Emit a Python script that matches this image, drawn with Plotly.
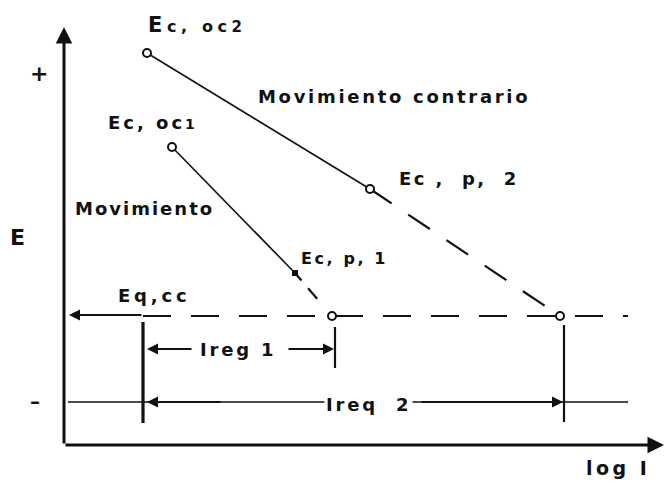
import plotly.graph_objects as go

# Schematic E vs log I diagram (arbitrary units: x = log I, y = E)
# Polarisation lines: open-circuit potential -> potential at the end of the solid segment
line1_logi = [172, 295]
line1_e = [337, 211]
line2_logi = [147, 370]
line2_e = [431, 295]

# Corrosion (equilibrium) potential and the two intersection currents
e_eq = 168
logi_reg1 = 332
logi_reg2 = 560
logi_eq_start = 143
e_low = 82          # level of the "-" mark

BLACK = "#111111"
FONT = "DejaVu Sans"

fig = go.Figure()

# Solid polarisation segments
fig.add_trace(go.Scatter(x=line2_logi, y=line2_e, mode="lines",
                         line=dict(color=BLACK, width=1.6)))
fig.add_trace(go.Scatter(x=line1_logi, y=line1_e, mode="lines",
                         line=dict(color=BLACK, width=1.6)))

# Dashed extrapolations down to the equilibrium level
fig.add_trace(go.Scatter(x=[line2_logi[1], logi_reg2], y=[line2_e[1], e_eq], mode="lines",
                         line=dict(color=BLACK, width=2.2, dash="26px,20px")))
fig.add_trace(go.Scatter(x=[line1_logi[1], logi_reg1], y=[line1_e[1], e_eq], mode="lines",
                         line=dict(color=BLACK, width=2.2, dash="10px,10px,14px,40px")))

# Horizontal dashed equilibrium line
fig.add_trace(go.Scatter(x=[logi_eq_start, 628], y=[e_eq, e_eq], mode="lines",
                         line=dict(color=BLACK, width=2.2, dash="28px,20px")))

# Horizontal "-" level line
fig.add_trace(go.Scatter(x=[68, 628], y=[e_low, e_low], mode="lines",
                         line=dict(color=BLACK, width=1.6)))

# Vertical markers at the current boundaries
fig.add_trace(go.Scatter(x=[logi_eq_start, logi_eq_start], y=[162, 61], mode="lines",
                         line=dict(color=BLACK, width=3.2)))
fig.add_trace(go.Scatter(x=[logi_reg1 + 3, logi_reg1 + 3], y=[157, 116], mode="lines",
                         line=dict(color=BLACK, width=2.2)))
fig.add_trace(go.Scatter(x=[logi_reg2 + 4, logi_reg2 + 4], y=[159, 62], mode="lines",
                         line=dict(color=BLACK, width=2.2)))

# Open circles at the characteristic points
fig.add_trace(go.Scatter(x=[line2_logi[0], line1_logi[0], line2_logi[1], logi_reg1, logi_reg2],
                         y=[line2_e[0], line1_e[0], line2_e[1], e_eq, e_eq],
                         mode="markers",
                         marker=dict(symbol="circle", size=8, color="white",
                                     line=dict(color=BLACK, width=2))))
fig.add_trace(go.Scatter(x=[line1_logi[1]], y=[line1_e[1]], mode="markers",
                         marker=dict(symbol="square", size=6, color=BLACK)))

ann = []


def arrow(x0, y0, x1, y1, width=2, size=1.0):
    ann.append(dict(x=x1, y=y1, ax=x0, ay=y0, xref="x", yref="y", axref="x", ayref="y",
                    showarrow=True, arrowhead=2, arrowsize=size, arrowwidth=width,
                    arrowcolor=BLACK, text=""))


# Axes with arrow heads
arrow(64, 39, 64, 457, width=3, size=1.1)
arrow(64, 39, 664, 39, width=3, size=1.1)

# Eq,cc arrow pointing back to the E axis
arrow(logi_eq_start, e_eq + 1, 69, e_eq + 1, width=2.2)

# I reg 1 dimension arrows
arrow(193, 135, 147, 135, width=2.2)
arrow(287, 135, logi_reg1 + 2, 135, width=2.2)

# I req 2 dimension arrows
arrow(222, e_low, 147, e_low, width=2.2)
arrow(420, e_low, logi_reg2 + 3, e_low, width=2.2)


def label(x, y, text, size=18, anchor="left", bg=None, spacing=2.6):
    d = dict(x=x, y=y, xref="x", yref="y",
             text=f"<span style='letter-spacing:{spacing}px'><b>{text}</b></span>",
             showarrow=False, xanchor=anchor, yanchor="middle",
             font=dict(family=FONT, size=size, color=BLACK))
    if bg:
        d["bgcolor"] = bg
    ann.append(d)


label(146, 459, "E<span style='font-size:16px'>c, oc</span><span style='font-size:15px'>2</span>",
      size=21, spacing=4.6)
label(106, 362, "Ec, oc<span style='font-size:14px'>1</span>", size=18, spacing=3.0)
label(256, 388, "Movimiento contrario", size=18, spacing=2.7)
label(73, 276, "Movimiento", size=18, spacing=2.0)
label(397, 306, "Ec ,  p,  2", size=18, spacing=2.4)
label(299, 226, "Ec, p, 1", size=16, spacing=2.6)
label(116, 189, "Eq,cc", size=18, spacing=3.8)
label(198, 135, "Ireg 1", size=18, spacing=2.8)
label(324, 80, "Ireq  2", size=18, bg="white", spacing=2.8)
label(28, 411, "+", size=22, spacing=0)
label(28, 83, "–", size=20, spacing=0)
label(8, 247, "E", size=22, spacing=0)
label(584, 16, "log I", size=19, spacing=3.5)

fig.update_layout(
    width=665, height=484,
    margin=dict(l=0, r=0, t=0, b=0),
    paper_bgcolor="white", plot_bgcolor="white",
    showlegend=False,
    annotations=ann,
    xaxis=dict(range=[0, 665], visible=False, fixedrange=True),
    yaxis=dict(range=[0, 484], visible=False, fixedrange=True),
)

fig.write_html("out.html")
